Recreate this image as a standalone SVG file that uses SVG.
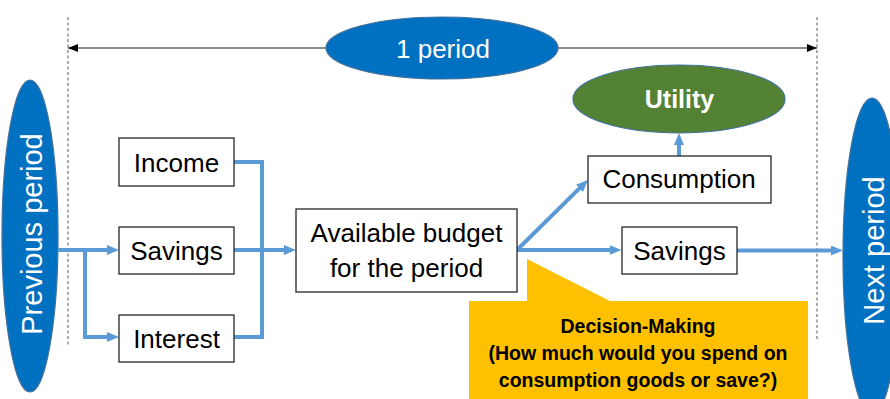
<svg xmlns="http://www.w3.org/2000/svg" width="890" height="399" viewBox="0 0 890 399">
  <style>
    .box { fill: #ffffff; stroke: #262626; stroke-width: 1.3; }
    .lbl { font-family: "Liberation Sans", Arial, sans-serif; font-size: 26px; fill: #000000; text-anchor: middle; }
    .oval { fill: #0070C0; stroke: #41719C; stroke-width: 1.2; }
    .white { font-family: "Liberation Sans", Arial, sans-serif; fill: #ffffff; text-anchor: middle; }
    .flow { fill: none; stroke: #5B9BD5; stroke-width: 4; }
    .guide { stroke: #595959; stroke-width: 1; stroke-dasharray: 3 2.5; }
    .note { font-family: "Liberation Sans", Arial, sans-serif; font-size: 19.5px; font-weight: bold; fill: #000000; text-anchor: middle; }
  </style>
  <defs>
    <marker id="blueHead" markerUnits="userSpaceOnUse" markerWidth="13" markerHeight="11" refX="6" refY="5" orient="auto">
      <path d="M0,0 L12,5 L0,10 z" fill="#5B9BD5"/>
    </marker>
    <marker id="blackHead" markerUnits="userSpaceOnUse" markerWidth="11" markerHeight="9" refX="10" refY="4" orient="auto-start-reverse">
      <path d="M0,0 L10,4 L0,8 z" fill="#000000"/>
    </marker>
  </defs>

  <!-- period boundaries -->
  <g id="period-span">
    <line class="guide" x1="68" y1="17" x2="68" y2="345"/>
    <line class="guide" x1="817" y1="17" x2="817" y2="340"/>
    <line x1="68" y1="48" x2="817" y2="48" stroke="#8C8C8C" stroke-width="2" marker-start="url(#blackHead)" marker-end="url(#blackHead)"/>
  </g>

  <g id="one-period">
    <ellipse class="oval" cx="442" cy="48" rx="116" ry="31"/>
    <text class="white" x="443" y="58" font-size="26">1 period</text>
  </g>

  <g id="previous-period">
    <ellipse class="oval" cx="30" cy="236" rx="28" ry="156"/>
    <text class="white" font-size="29" transform="translate(41.5,234) rotate(-90)">Previous period</text>
  </g>

  <g id="next-period">
    <ellipse class="oval" cx="872" cy="256" rx="29" ry="158"/>
    <text class="white" font-size="29" transform="translate(883.5,250.5) rotate(-90)">Next period</text>
  </g>

  <g id="utility">
    <ellipse cx="679" cy="99" rx="106" ry="34" fill="#548235" stroke="#41719C" stroke-width="1.2"/>
    <text class="white" x="679.5" y="108" font-size="25" font-weight="bold">Utility</text>
  </g>

  <!-- connectors -->
  <g id="connectors">
    <path class="flow" d="M58,250 L113,250" marker-end="url(#blueHead)"/>
    <path class="flow" d="M85,250 L85,337 L113,337" marker-end="url(#blueHead)"/>
    <path class="flow" d="M234,162 L262,162 L262,337 L234,337"/>
    <path class="flow" d="M234,250 L290,250" marker-end="url(#blueHead)"/>
    <path class="flow" d="M517,250 L615.5,250" marker-end="url(#blueHead)"/>
    <path class="flow" d="M517,250 L583.7,184.2" marker-end="url(#blueHead)"/>
    <path class="flow" d="M679,156 L679,139" marker-end="url(#blueHead)"/>
    <path class="flow" d="M737,250.5 L837,250.5" marker-end="url(#blueHead)"/>
  </g>

  <g id="income">
    <rect class="box" x="119" y="138" width="115" height="48"/>
    <text class="lbl" x="176.5" y="172">Income</text>
  </g>

  <g id="savings-in">
    <rect class="box" x="119" y="227" width="115" height="47"/>
    <text class="lbl" x="176.5" y="260">Savings</text>
  </g>

  <g id="interest">
    <rect class="box" x="119" y="315" width="115" height="47"/>
    <text class="lbl" x="176.5" y="348">Interest</text>
  </g>

  <g id="budget">
    <rect class="box" x="296" y="209" width="221" height="83"/>
    <text class="lbl" x="406.5" y="242">Available budget</text>
    <text class="lbl" x="406.5" y="277">for the period</text>
  </g>

  <g id="consumption">
    <rect class="box" x="588" y="156" width="183" height="47"/>
    <text class="lbl" x="679" y="188">Consumption</text>
  </g>

  <g id="savings-out">
    <rect class="box" x="622" y="227" width="115" height="47"/>
    <text class="lbl" x="679.5" y="260">Savings</text>
  </g>

  <g id="decision-callout">
    <polygon points="469,301 527,301 527,259 610,301 808,301 808,399 469,399" fill="#FFC000"/>
    <text class="note" x="638" y="333">Decision-Making</text>
    <text class="note" x="638" y="360">(How much would you spend on</text>
    <text class="note" x="638" y="387">consumption goods or save?)</text>
  </g>
</svg>
